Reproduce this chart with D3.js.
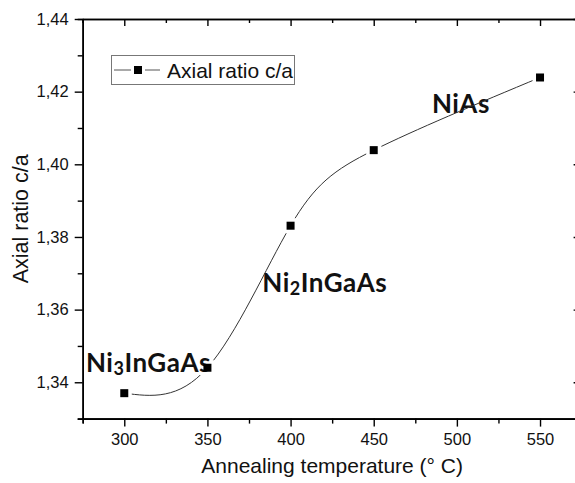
<!DOCTYPE html>
<html>
<head>
<meta charset="utf-8">
<script src="https://cdn.jsdelivr.net/npm/d3@7"></script>
<style>
  html, body { margin: 0; padding: 0; background: #fff; }
  svg { display: block; font-family: "Liberation Sans", Arial, sans-serif; }
  .phase { font-family: Lato, "Open Sans", sans-serif; font-weight: 700; fill: #111; letter-spacing: 0.5px; }
</style>
</head>
<body>
<svg id="chart" width="575" height="483"></svg>
<script>
// annealing temperature (°C) and measured c/a
const temps = [300, 350, 400, 450, 550];
const ratios = [1.337, 1.344, 1.3831, 1.4039, 1.4239];

const xTicks = [300, 350, 400, 450, 500, 550];
const yTicks = [1.34, 1.36, 1.38, 1.40, 1.42, 1.44];

// phase labels, anchored in data units (left edge / baseline)
const phaseNames = [["Ni", "3", "InGaAs"], ["Ni", "2", "InGaAs"], ["NiAs", "", ""]];
const phaseTemps = [277, 383, 485];
const phaseRatios = [1.3429, 1.3648, 1.4142];

const seriesName = "Axial ratio c/a";

const svg = d3.select("#chart");
const padL = 82.7, padR = 581.6, padT = 19, padB = 418.6;

const x = d3.scaleLinear().domain([275, 575]).range([padL, padR]);
const y = d3.scaleLinear().domain([1.33, 1.44]).range([padB, padT]);

const fmt = (d) => d.toFixed(2).replace(".", ",");
const minorX = d3.range(275, 576, 25).filter((d) => !xTicks.includes(d));
const minorY = d3.range(1.33, 1.4401, 0.01).map((d) => +d.toFixed(2))
  .filter((d) => !yTicks.some((t) => Math.abs(t - d) < 1e-6));

function styleAxis(g) {
  g.select(".domain").attr("stroke", "#000").attr("stroke-width", 1.6);
  g.selectAll(".tick line").attr("stroke", "#000").attr("stroke-width", 1.4);
  g.selectAll(".tick text").attr("fill", "#111").attr("font-size", 16.5)
    .attr("font-family", "'Liberation Sans', Arial, sans-serif");
}

// minor ticks first so the spines sit on top
svg.append("g").attr("transform", `translate(0,${padB})`)
  .call(d3.axisBottom(x).tickValues(minorX).tickSize(5).tickFormat(""))
  .call(styleAxis);
svg.append("g").attr("transform", `translate(0,${padT})`)
  .call(d3.axisTop(x).tickValues(minorX).tickSize(-4).tickFormat(""))
  .call(styleAxis);
svg.append("g").attr("transform", `translate(${padL},0)`)
  .call(d3.axisLeft(y).tickValues(minorY).tickSize(5).tickFormat(""))
  .call(styleAxis);
svg.append("g").attr("transform", `translate(${padR},0)`)
  .call(d3.axisRight(y).tickValues(minorY).tickSize(-4).tickFormat(""))
  .call(styleAxis);

svg.append("g").attr("transform", `translate(0,${padB})`)
  .call(d3.axisBottom(x).tickValues(xTicks).tickSize(8).tickPadding(7).tickSizeOuter(0))
  .call(styleAxis);
svg.append("g").attr("transform", `translate(0,${padT})`)
  .call(d3.axisTop(x).tickValues(xTicks).tickSize(-7).tickSizeOuter(0).tickFormat(""))
  .call(styleAxis);
svg.append("g").attr("transform", `translate(${padL},0)`)
  .call(d3.axisLeft(y).tickValues(yTicks).tickSize(8).tickPadding(6).tickSizeOuter(0).tickFormat(fmt))
  .call(styleAxis);
svg.append("g").attr("transform", `translate(${padR},0)`)
  .call(d3.axisRight(y).tickValues(yTicks).tickSize(-8).tickSizeOuter(0).tickFormat(""))
  .call(styleAxis);

// axis titles
svg.append("text")
  .attr("x", (padL + padR) / 2).attr("y", 473)
  .attr("text-anchor", "middle").attr("font-size", 21).attr("fill", "#111")
  .text("Annealing temperature (° C)");
svg.append("text")
  .attr("transform", `translate(28,${(padT + padB) / 2}) rotate(-90)`)
  .attr("text-anchor", "middle").attr("font-size", 21.5).attr("fill", "#111")
  .text(seriesName);

// phase labels (drawn under the curve, as in the original)
phaseNames.forEach((parts, i) => {
  const t = svg.append("text").attr("class", "phase")
    .attr("x", x(phaseTemps[i])).attr("y", y(phaseRatios[i]))
    .attr("font-size", 26);
  t.append("tspan").text(parts[0]);
  if (parts[1]) {
    t.append("tspan").attr("font-size", 18).attr("dy", 3).text(parts[1]);
    t.append("tspan").attr("dy", -3).text(parts[2]);
  }
});

const pts = temps.map((t, i) => [t, ratios[i]]);

// mask cuts a small gap in the line around each marker
const mask = svg.append("defs").append("mask").attr("id", "gaps")
  .attr("maskUnits", "userSpaceOnUse").attr("x", 0).attr("y", 0).attr("width", 575).attr("height", 483);
mask.append("rect").attr("width", 575).attr("height", 483).attr("fill", "#fff");
mask.selectAll("rect.hole").data(pts).join("rect").attr("class", "hole")
  .attr("x", (d) => x(d[0]) - 7.5).attr("y", (d) => y(d[1]) - 7.5)
  .attr("width", 15).attr("height", 15).attr("fill", "#000");

// spline through the points
svg.append("path")
  .datum(pts)
  .attr("mask", "url(#gaps)")
  .attr("fill", "none").attr("stroke", "#333").attr("stroke-width", 1)
  .attr("d", d3.line().x((d) => x(d[0])).y((d) => y(d[1])).curve(d3.curveNatural));

svg.append("g").selectAll("rect").data(pts).join("rect")
  .attr("x", (d) => x(d[0]) - 4).attr("y", (d) => y(d[1]) - 4)
  .attr("width", 8).attr("height", 8).attr("fill", "#000");

// legend
const lg = svg.append("g");
lg.append("rect").attr("x", 111.5).attr("y", 55.5).attr("width", 183).attr("height", 29)
  .attr("fill", "#fff").attr("stroke", "#777").attr("stroke-width", 1);
lg.append("line").attr("x1", 114).attr("x2", 131).attr("y1", 70).attr("y2", 70)
  .attr("stroke", "#555").attr("stroke-width", 1);
lg.append("line").attr("x1", 145).attr("x2", 160).attr("y1", 70).attr("y2", 70)
  .attr("stroke", "#555").attr("stroke-width", 1);
lg.append("rect").attr("x", 134).attr("y", 66).attr("width", 8).attr("height", 8).attr("fill", "#000");
lg.append("text").attr("x", 167).attr("y", 78).attr("font-size", 21).attr("fill", "#111").text(seriesName);
</script>
</body>
</html>
